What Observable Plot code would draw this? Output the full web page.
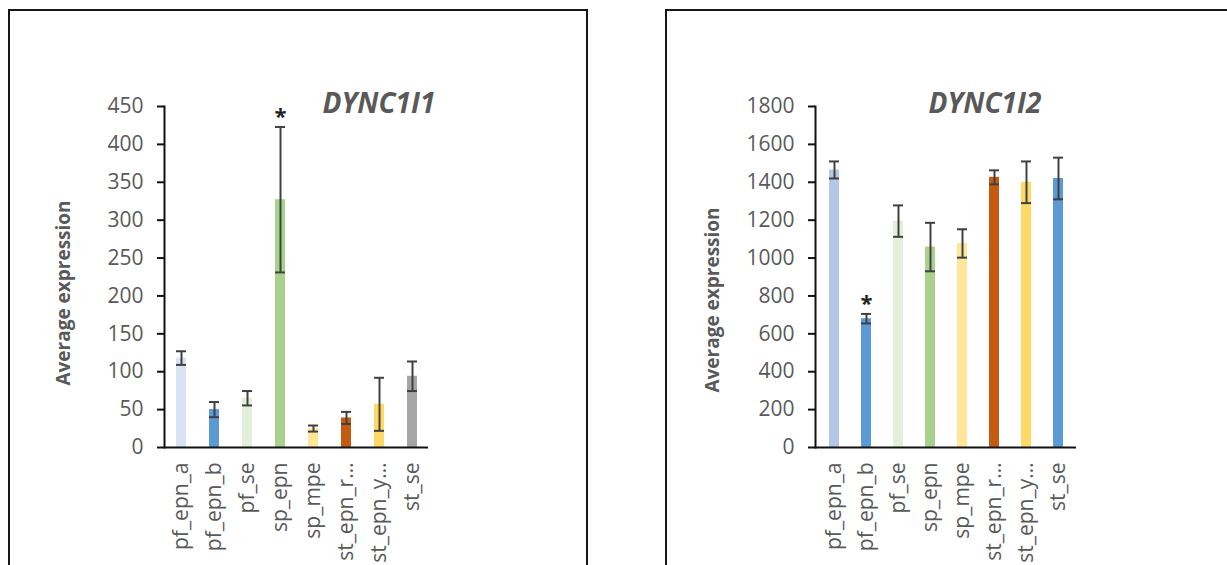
<!DOCTYPE html>
<html>
<head>
<meta charset="utf-8">
<script src="https://cdn.jsdelivr.net/npm/d3@7"></script>
<script src="https://cdn.jsdelivr.net/npm/@observablehq/plot@0.6"></script>
<style>
  html, body { margin: 0; padding: 0; background: #fff; }
  #page { position: relative; width: 1227px; height: 565px; overflow: hidden; background: #fff; }
  .panel { position: absolute; box-sizing: border-box; border: 2px solid #161616; pointer-events: none; z-index: 2; }
  .plot-holder { position: absolute; top: 0; z-index: 1; }
</style>
</head>
<body>
<div id="page">
  <div class="panel" style="left:8px; top:9px; width:580px; height:620px;"></div>
  <div class="panel" style="left:665px; top:9px; width:620px; height:620px;"></div>
  <div class="plot-holder" id="left" style="left:0px;"></div>
  <div class="plot-holder" id="right" style="left:620px;"></div>
</div>
<script>
// Tissue groups shown on the x axis
const categories = ["pf_epn_a", "pf_epn_b", "pf_se", "sp_epn", "sp_mpe", "st_epn_r…", "st_epn_y…", "st_se"];

// DYNC1I1: average expression and error
const dync1i1Mean = [118, 50, 65, 327, 25, 39, 57, 94];
const dync1i1Err = [9, 10, 9.5, 96, 4, 8, 35, 19.5];
const dync1i1Colors = ["#dae3f3", "#5b9bd5", "#e2efda", "#a9d18e", "#ffe699", "#c55a11", "#ffd966", "#a5a5a5"];
const dync1i1Ticks = [0, 50, 100, 150, 200, 250, 300, 350, 400, 450];
const dync1i1Signif = ["sp_epn"];

// DYNC1I2: average expression and error
const dync1i2Mean = [1465, 680, 1195, 1058, 1077, 1426, 1400, 1420];
const dync1i2Err = [45, 25, 83, 128, 75, 37, 110, 110];
const dync1i2Colors = ["#b4c7e7", "#5b9bd5", "#e2efda", "#a9d18e", "#ffe699", "#c55a11", "#ffd966", "#5b9bd5"];
const dync1i2Ticks = [0, 200, 400, 600, 800, 1000, 1200, 1400, 1600, 1800];
const dync1i2Signif = ["pf_epn_b"];

const textGray = "#595959";
const errGray = "#404040";

function panel({gene, means, errs, colors, ticks, signif, marginLeft, marginRight, titleDx, labelDx, labelDy}) {
  const rows = categories.map((c, i) => ({cat: c, mean: means[i], err: errs[i], color: colors[i]}));
  const starred = rows.filter(d => signif.includes(d.cat));
  return Plot.plot({
    width: 600,
    height: 565,
    marginLeft,
    marginRight,
    marginTop: 106,
    marginBottom: 118,
    style: {fontFamily: "'Open Sans', sans-serif", overflow: "visible", background: "transparent"},
    x: {domain: categories, paddingInner: 0.7, paddingOuter: 0.35, axis: null},
    y: {domain: [0, ticks[ticks.length - 1]], axis: null},
    color: {type: "identity"},
    marks: [
      Plot.barY(rows, {x: "cat", y: "mean", fill: "color"}),
      Plot.ruleX(rows, {x: "cat", y1: d => d.mean - d.err, y2: d => d.mean + d.err, stroke: errGray, strokeWidth: 2}),
      Plot.tickY(rows, {x: "cat", y: d => d.mean - d.err, stroke: errGray, strokeWidth: 2}),
      Plot.tickY(rows, {x: "cat", y: d => d.mean + d.err, stroke: errGray, strokeWidth: 2}),
      Plot.text(starred, {x: "cat", y: d => d.mean + d.err, text: () => "*", lineAnchor: "bottom", dy: -3, fontSize: 22, fontWeight: "bold", fill: "#222"}),
      Plot.ruleY([0], {stroke: "#111", strokeWidth: 2}),
      Plot.frame({anchor: "left", stroke: "#111", strokeWidth: 2}),
      Plot.axisY({ticks, tickFormat: d => String(d), tickSize: 7, tickPadding: 14, stroke: "#111", strokeWidth: 2, fill: textGray, fontSize: 21, label: null}),
      Plot.axisX({tickSize: 0, tickRotate: -90, tickPadding: 15, fill: textGray, fontSize: 21, label: null}),
      Plot.text([gene], {frameAnchor: "top-left", textAnchor: "start", lineAnchor: "bottom", dx: titleDx, dy: 6, fontSize: 28, fontWeight: "bold", fontStyle: "italic", fill: textGray}),
      Plot.text(["Average expression"], {frameAnchor: "left", textAnchor: "middle", rotate: -90, dx: labelDx, dy: labelDy, fontSize: 19, fontWeight: "bold", fill: textGray})
    ]
  });
}

document.getElementById("left").appendChild(panel({
  gene: "DYNC1I1", means: dync1i1Mean, errs: dync1i1Err, colors: dync1i1Colors, ticks: dync1i1Ticks, signif: dync1i1Signif,
  marginLeft: 164, marginRight: 172, titleDx: 158, labelDx: -101, labelDy: 16
}));
document.getElementById("right").appendChild(panel({
  gene: "DYNC1I2", means: dync1i2Mean, errs: dync1i2Err, colors: dync1i2Colors, ticks: dync1i2Ticks, signif: dync1i2Signif,
  marginLeft: 195, marginRight: 144, titleDx: 113, labelDx: -103, labelDy: 23
}));
</script>
</body>
</html>
